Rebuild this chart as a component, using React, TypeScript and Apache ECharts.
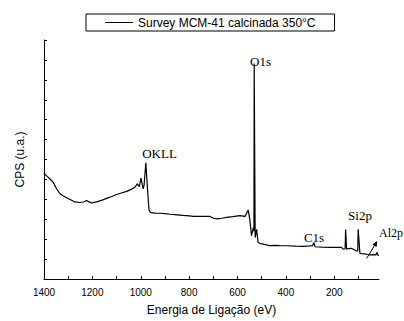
import React, { useEffect, useRef } from "react";
import * as echarts from "echarts";

const energy = [
  1400, 1389, 1375, 1362, 1348, 1334, 1320, 1300, 1272, 1251, 1235, 1224, 1212, 1203, 1182, 1160,
  1141, 1120, 1100, 1080, 1058, 1040, 1024, 1014, 1006, 999, 990, 986, 979, 973, 966, 959, 940,
  921, 900, 879, 850, 824, 800, 783, 750, 714, 700, 686, 665, 645, 620, 590, 569, 556, 549, 542,
  535, 532, 531, 529, 527, 521, 515, 505, 494, 480, 469, 440, 420, 397, 360, 329, 300, 290, 284,
  279, 250, 218, 190, 170, 163, 155, 153, 149, 140, 129, 115, 111, 103, 101, 94, 85, 74, 62, 53,
  40, 28, 23, 19, 16,
];
const cps = [
  5.31, 5.18, 5.02, 4.85, 4.53, 4.28, 4.17, 4.04, 3.87, 3.84, 3.88, 3.94, 3.86, 3.82, 3.87, 3.96,
  4.05, 4.14, 4.24, 4.32, 4.4, 4.5, 4.61, 4.78, 4.64, 5.07, 4.52, 4.73, 5.83, 4.69, 3.47, 3.33, 3.31,
  3.3, 3.28, 3.25, 3.22, 3.19, 3.17, 3.14, 3.15, 3.14, 3.06, 3.02, 3.05, 3.09, 3.13, 3.18, 3.14, 3.47,
  2.98, 2.16, 2.57, 2.4, 10.82, 10.8, 2.08, 2.49, 1.83, 1.78, 1.75, 1.71, 1.68, 1.69, 1.67, 1.67,
  1.65, 1.64, 1.66, 1.67, 1.83, 1.62, 1.6, 1.59, 1.59, 1.59, 1.5, 1.52, 2.49, 1.5, 1.53, 1.54, 1.46,
  1.42, 1.4, 2.49, 1.29, 1.27, 1.26, 1.23, 1.21, 1.22, 1.21, 1.34, 1.18, 1.2,
];
const xLabelValues = [200, 400, 600, 800, 1000, 1200, 1400];
const xTickValues = [100, 200, 300, 400, 500, 600, 700, 800, 900, 1000, 1100, 1200, 1300, 1400];
const seriesName = "Survey MCM-41 calcinada 350°C";
const yTitle = "CPS (u.a.)";
const xTitle = "Energia de Ligação (eV)";
const peakLabels = ["O1s", "OKLL", "C1s", "Si2p", "Al2p"];

export default function App() {
  const ref = useRef<HTMLDivElement>(null);
  useEffect(() => {
    document.body.style.margin = "0";
    const chart = echarts.init(ref.current!, null, { renderer: "svg" });
    const serif = "'Liberation Serif', 'Times New Roman', serif";
    const sans = "'Liberation Sans', Arial, sans-serif";
    const tipX = 377.3, tipY = 241, tailX = 366.7, tailY = 258.3;
    const dx = tipX - tailX, dy = tipY - tailY;
    const len = Math.hypot(dx, dy);
    const ux = dx / len, uy = dy / len;
    const bx = tipX - ux * 5.5, by = tipY - uy * 5.5;
    const px = -uy, py = ux;
    const label = (text: string, x: number, y: number, size = 13, align = "center") => ({
      type: "text",
      x,
      y,
      style: { text, font: `${size}px ${serif}`, fill: "#000", textAlign: align, textVerticalAlign: "middle" },
    });
    chart.setOption({
      animation: false,
      backgroundColor: "#fff",
      grid: { left: 44, right: 25, top: 40, bottom: 35 },
      legend: {
        left: 86,
        top: 14,
        padding: [2, 19, 2, 19],
        borderColor: "#000",
        borderWidth: 1,
        borderRadius: 0,
        itemWidth: 28,
        itemHeight: 1,
        itemGap: 0,
        icon: "rect",
        itemStyle: { color: "#000" },
        textStyle: { fontFamily: sans, fontSize: 12, color: "#000", lineHeight: 13 },
        data: [seriesName],
      },
      xAxis: {
        type: "value",
        min: 15,
        max: 1400,
        inverse: true,
        name: xTitle,
        nameLocation: "middle",
        nameGap: 25,
        nameTextStyle: { fontFamily: sans, fontSize: 12, color: "#000" },
        splitLine: { show: false },
        axisLine: { lineStyle: { color: "#000", width: 1 } },
        axisTick: {
          inside: true,
          length: 3,
          customValues: xTickValues,
          lineStyle: { color: "#000" },
        },
        axisLabel: {
          customValues: xLabelValues,
          formatter: (v: number) => String(v),
          fontFamily: sans,
          fontSize: 10,
          color: "#000",
          margin: 8,
        },
      },
      yAxis: {
        type: "value",
        min: 0,
        max: 12,
        interval: 1,
        splitLine: { show: false },
        axisLine: { show: true, lineStyle: { color: "#000", width: 1 } },
        axisTick: { show: true, inside: true, length: 3, lineStyle: { color: "#000" } },
        axisLabel: { show: false },
      },
      series: [
        {
          name: seriesName,
          type: "line",
          symbol: "none",
          data: energy.map((e, i) => [e, cps[i]]),
          lineStyle: { color: "#000", width: 1.2 },
          itemStyle: { color: "#000" },
        },
      ],
      graphic: [
        {
          type: "text",
          x: 20,
          y: 159.5,
          rotation: Math.PI / 2,
          style: { text: yTitle, font: `12px ${sans}`, fill: "#000", textAlign: "center", textVerticalAlign: "middle" },
        },
        label(peakLabels[0], 260.5, 61),
        label(peakLabels[1], 159.5, 153),
        label(peakLabels[2], 314, 237),
        label(peakLabels[3], 360, 215),
        label(peakLabels[4], 379, 233, 12, "left"),
        { type: "line", shape: { x1: tailX, y1: tailY, x2: bx, y2: by }, style: { stroke: "#000", lineWidth: 1 } },
        {
          type: "polygon",
          shape: { points: [[tipX, tipY], [bx + px * 2.5, by + py * 2.5], [bx - px * 2.5, by - py * 2.5]] },
          style: { fill: "#000" },
        },
      ],
    });
    return () => chart.dispose();
  }, []);
  return (
    <div
      ref={ref}
      style={{ position: "absolute", left: 0, top: 0, width: 404, height: 321 }}
    />
  );
}
